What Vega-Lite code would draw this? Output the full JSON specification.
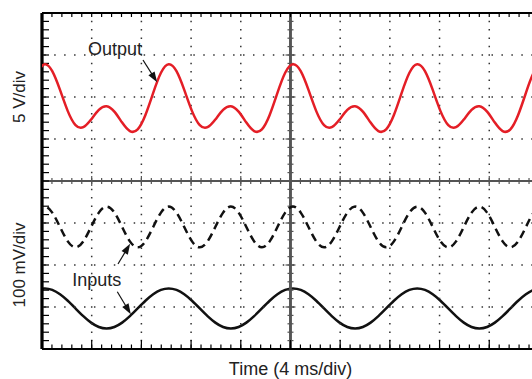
{
  "$schema": "https://vega.github.io/schema/vega-lite/v6.json",
  "width": 490,
  "height": 336,
  "autosize": {"type": "none"},
  "padding": {"left": 42, "top": 13, "right": 0, "bottom": 30},
  "background": "white",
  "config": {"view": {"stroke": null}, "font": "Liberation Sans"},
  "datasets": {
    "wave": [
      {"t": -0.425, "out": 6.577, "dash": 3.248, "sol": 1.406},
      {"t": 0.2, "out": 6.78, "dash": 3.39, "sol": 1.442},
      {"t": 0.825, "out": 6.615, "dash": 3.248, "sol": 1.406},
      {"t": 1.45, "out": 6.169, "dash": 2.905, "sol": 1.302},
      {"t": 2.075, "out": 5.664, "dash": 2.562, "sol": 1.148},
      {"t": 2.7, "out": 5.33, "dash": 2.42, "sol": 0.965},
      {"t": 3.325, "out": 5.281, "dash": 2.562, "sol": 0.782},
      {"t": 3.95, "out": 5.462, "dash": 2.905, "sol": 0.628},
      {"t": 4.575, "out": 5.691, "dash": 3.248, "sol": 0.524},
      {"t": 5.2, "out": 5.78, "dash": 3.39, "sol": 0.488},
      {"t": 5.825, "out": 5.652, "dash": 3.248, "sol": 0.524},
      {"t": 6.45, "out": 5.391, "dash": 2.905, "sol": 0.628},
      {"t": 7.075, "out": 5.189, "dash": 2.562, "sol": 0.782},
      {"t": 7.7, "out": 5.23, "dash": 2.42, "sol": 0.965},
      {"t": 8.325, "out": 5.572, "dash": 2.562, "sol": 1.148},
      {"t": 8.95, "out": 6.098, "dash": 2.905, "sol": 1.302},
      {"t": 9.575, "out": 6.577, "dash": 3.248, "sol": 1.406},
      {"t": 10.2, "out": 6.78, "dash": 3.39, "sol": 1.442},
      {"t": 10.825, "out": 6.615, "dash": 3.248, "sol": 1.406},
      {"t": 11.45, "out": 6.169, "dash": 2.905, "sol": 1.302},
      {"t": 12.075, "out": 5.664, "dash": 2.562, "sol": 1.148},
      {"t": 12.7, "out": 5.33, "dash": 2.42, "sol": 0.965},
      {"t": 13.325, "out": 5.281, "dash": 2.562, "sol": 0.782},
      {"t": 13.95, "out": 5.462, "dash": 2.905, "sol": 0.628},
      {"t": 14.575, "out": 5.691, "dash": 3.248, "sol": 0.524},
      {"t": 15.2, "out": 5.78, "dash": 3.39, "sol": 0.488},
      {"t": 15.825, "out": 5.652, "dash": 3.248, "sol": 0.524},
      {"t": 16.45, "out": 5.391, "dash": 2.905, "sol": 0.628},
      {"t": 17.075, "out": 5.189, "dash": 2.562, "sol": 0.782},
      {"t": 17.7, "out": 5.23, "dash": 2.42, "sol": 0.965},
      {"t": 18.325, "out": 5.572, "dash": 2.562, "sol": 1.148},
      {"t": 18.95, "out": 6.098, "dash": 2.905, "sol": 1.302},
      {"t": 19.575, "out": 6.577, "dash": 3.248, "sol": 1.406},
      {"t": 20.2, "out": 6.78, "dash": 3.39, "sol": 1.442},
      {"t": 20.825, "out": 6.615, "dash": 3.248, "sol": 1.406},
      {"t": 21.45, "out": 6.169, "dash": 2.905, "sol": 1.302},
      {"t": 22.075, "out": 5.664, "dash": 2.562, "sol": 1.148},
      {"t": 22.7, "out": 5.33, "dash": 2.42, "sol": 0.965},
      {"t": 23.325, "out": 5.281, "dash": 2.562, "sol": 0.782},
      {"t": 23.95, "out": 5.462, "dash": 2.905, "sol": 0.628},
      {"t": 24.575, "out": 5.691, "dash": 3.248, "sol": 0.524},
      {"t": 25.2, "out": 5.78, "dash": 3.39, "sol": 0.488},
      {"t": 25.825, "out": 5.652, "dash": 3.248, "sol": 0.524},
      {"t": 26.45, "out": 5.391, "dash": 2.905, "sol": 0.628},
      {"t": 27.075, "out": 5.189, "dash": 2.562, "sol": 0.782},
      {"t": 27.7, "out": 5.23, "dash": 2.42, "sol": 0.965},
      {"t": 28.325, "out": 5.572, "dash": 2.562, "sol": 1.148},
      {"t": 28.95, "out": 6.098, "dash": 2.905, "sol": 1.302},
      {"t": 29.575, "out": 6.577, "dash": 3.248, "sol": 1.406},
      {"t": 30.2, "out": 6.78, "dash": 3.39, "sol": 1.442},
      {"t": 30.825, "out": 6.615, "dash": 3.248, "sol": 1.406},
      {"t": 31.45, "out": 6.169, "dash": 2.905, "sol": 1.302},
      {"t": 32.075, "out": 5.664, "dash": 2.562, "sol": 1.148},
      {"t": 32.7, "out": 5.33, "dash": 2.42, "sol": 0.965},
      {"t": 33.325, "out": 5.281, "dash": 2.562, "sol": 0.782},
      {"t": 33.95, "out": 5.462, "dash": 2.905, "sol": 0.628},
      {"t": 34.575, "out": 5.691, "dash": 3.248, "sol": 0.524},
      {"t": 35.2, "out": 5.78, "dash": 3.39, "sol": 0.488},
      {"t": 35.825, "out": 5.652, "dash": 3.248, "sol": 0.524},
      {"t": 36.45, "out": 5.391, "dash": 2.905, "sol": 0.628},
      {"t": 37.075, "out": 5.189, "dash": 2.562, "sol": 0.782},
      {"t": 37.7, "out": 5.23, "dash": 2.42, "sol": 0.965},
      {"t": 38.325, "out": 5.572, "dash": 2.562, "sol": 1.148},
      {"t": 38.95, "out": 6.098, "dash": 2.905, "sol": 1.302},
      {"t": 39.575, "out": 6.577, "dash": 3.248, "sol": 1.406},
      {"t": 40.2, "out": 6.78, "dash": 3.39, "sol": 1.442}
    ],
    "xminor": [
      {"t": 0}, {"t": 0.8}, {"t": 1.6}, {"t": 2.4}, {"t": 3.2}, {"t": 4}, {"t": 4.8}, {"t": 5.6}, {"t": 6.4}, {"t": 7.2},
      {"t": 8}, {"t": 8.8}, {"t": 9.6}, {"t": 10.4}, {"t": 11.2}, {"t": 12}, {"t": 12.8}, {"t": 13.6}, {"t": 14.4}, {"t": 15.2},
      {"t": 16}, {"t": 16.8}, {"t": 17.6}, {"t": 18.4}, {"t": 19.2}, {"t": 20}, {"t": 20.8}, {"t": 21.6}, {"t": 22.4}, {"t": 23.2},
      {"t": 24}, {"t": 24.8}, {"t": 25.6}, {"t": 26.4}, {"t": 27.2}, {"t": 28}, {"t": 28.8}, {"t": 29.6}, {"t": 30.4}, {"t": 31.2},
      {"t": 32}, {"t": 32.8}, {"t": 33.6}, {"t": 34.4}, {"t": 35.2}, {"t": 36}, {"t": 36.8}, {"t": 37.6}, {"t": 38.4}, {"t": 39.2}
    ],
    "xmajor": [
      {"t": 0}, {"t": 4}, {"t": 8}, {"t": 12}, {"t": 16}, {"t": 20}, {"t": 24}, {"t": 28}, {"t": 32}, {"t": 36}
    ],
    "yminor": [
      {"v": 0}, {"v": 0.2}, {"v": 0.4}, {"v": 0.6}, {"v": 0.8}, {"v": 1}, {"v": 1.2}, {"v": 1.4}, {"v": 1.6}, {"v": 1.8},
      {"v": 2}, {"v": 2.2}, {"v": 2.4}, {"v": 2.6}, {"v": 2.8}, {"v": 3}, {"v": 3.2}, {"v": 3.4}, {"v": 3.6}, {"v": 3.8},
      {"v": 4}, {"v": 4.2}, {"v": 4.4}, {"v": 4.6}, {"v": 4.8}, {"v": 5}, {"v": 5.2}, {"v": 5.4}, {"v": 5.6}, {"v": 5.8},
      {"v": 6}, {"v": 6.2}, {"v": 6.4}, {"v": 6.6}, {"v": 6.8}, {"v": 7}, {"v": 7.2}, {"v": 7.4}, {"v": 7.6}, {"v": 7.8}, {"v": 8}
    ],
    "ymajor": [
      {"v": 0}, {"v": 1}, {"v": 2}, {"v": 3}, {"v": 4}, {"v": 5}, {"v": 6}, {"v": 7}, {"v": 8}
    ],
    "vgrid": [
      {"t": 4}, {"t": 8}, {"t": 12}, {"t": 16}, {"t": 24}, {"t": 28}, {"t": 32}, {"t": 36}
    ],
    "hgrid": [
      {"v": 1}, {"v": 2}, {"v": 3}, {"v": 5}, {"v": 6}, {"v": 7}
    ],
    "notes": [
      {"label": "Output", "t": 5.876, "v": 7.0},
      {"label": "Inputs", "t": 4.403, "v": 1.49}
    ],
    "xtitle": [
      {"label": "Time (4 ms/div)", "t": 20, "v": -0.619}
    ],
    "ytitles": [
      {"label": "5 V/div", "t": -1.368, "v": 6},
      {"label": "100 mV/div", "t": -1.368, "v": 2}
    ],
    "arrows": [
      {"name": "output", "t": 8.129, "v": 6.881, "t2": 9.039, "v2": 6.457, "angle": 147.5},
      {"name": "input dashed", "t": 6.117, "v": 2.024, "t2": 6.874, "v2": 2.398, "angle": 31},
      {"name": "input solid", "t": 6.061, "v": 1.364, "t2": 6.93, "v2": 0.936, "angle": 149}
    ]
  },
  "layer": [
    {
      "data": {"name": "wave"},
      "mark": {"type": "line", "interpolate": "natural", "color": "#111111", "strokeWidth": 2.5, "clip": true},
      "encoding": {
        "x": {"field": "t", "type": "quantitative", "scale": {"domain": [0, 39.44], "nice": false, "zero": false}, "axis": null},
        "y": {"field": "sol", "type": "quantitative", "scale": {"domain": [0, 8], "nice": false, "zero": false}, "axis": null}
      }
    },
    {
      "data": {"name": "vgrid"},
      "mark": {"type": "rule", "strokeDash": [1.5, 6.9], "strokeDashOffset": 0.75, "strokeWidth": 1.5, "color": "#333333"},
      "encoding": {"x": {"field": "t", "type": "quantitative", "axis": null}}
    },
    {
      "data": {"name": "hgrid"},
      "mark": {"type": "rule", "strokeDash": [1.5, 8.439], "strokeDashOffset": 0.75, "strokeWidth": 1.5, "color": "#333333"},
      "encoding": {"y": {"field": "v", "type": "quantitative", "axis": null}}
    },
    {
      "data": {"name": "xmajor"},
      "mark": {"type": "rule", "color": "#555555", "strokeWidth": 1.5},
      "encoding": {"x": {"datum": 20, "type": "quantitative", "axis": null}}
    },
    {
      "data": {"name": "ymajor"},
      "mark": {"type": "rule", "color": "#555555", "strokeWidth": 1.5},
      "encoding": {"y": {"datum": 4, "type": "quantitative", "axis": null}}
    },
    {
      "data": {"name": "xminor"},
      "mark": {"type": "tick", "orient": "vertical", "size": 6, "thickness": 1.2, "color": "#555555", "opacity": 1},
      "encoding": {"x": {"field": "t", "type": "quantitative", "axis": null}, "y": {"datum": 4, "type": "quantitative", "axis": null}}
    },
    {
      "data": {"name": "xmajor"},
      "mark": {"type": "tick", "orient": "vertical", "size": 10, "thickness": 1.2, "color": "#555555", "opacity": 1},
      "encoding": {"x": {"field": "t", "type": "quantitative", "axis": null}, "y": {"datum": 4, "type": "quantitative", "axis": null}}
    },
    {
      "data": {"name": "yminor"},
      "mark": {"type": "tick", "orient": "horizontal", "size": 6, "thickness": 1.2, "color": "#555555", "opacity": 1},
      "encoding": {"y": {"field": "v", "type": "quantitative", "axis": null}, "x": {"datum": 20, "type": "quantitative", "axis": null}}
    },
    {
      "data": {"name": "ymajor"},
      "mark": {"type": "tick", "orient": "horizontal", "size": 10, "thickness": 1.2, "color": "#555555", "opacity": 1},
      "encoding": {"y": {"field": "v", "type": "quantitative", "axis": null}, "x": {"datum": 20, "type": "quantitative", "axis": null}}
    },
    {
      "data": {"name": "xminor"},
      "mark": {"type": "tick", "orient": "vertical", "size": 8, "thickness": 1.2, "color": "black", "opacity": 1, "clip": true},
      "encoding": {"x": {"field": "t", "type": "quantitative", "axis": null}, "y": {"datum": 8, "type": "quantitative", "axis": null}}
    },
    {
      "data": {"name": "xminor"},
      "mark": {"type": "tick", "orient": "vertical", "size": 9, "thickness": 1.2, "color": "black", "opacity": 1, "clip": true},
      "encoding": {"x": {"field": "t", "type": "quantitative", "axis": null}, "y": {"datum": 0, "type": "quantitative", "axis": null}}
    },
    {
      "data": {"name": "xmajor"},
      "mark": {"type": "tick", "orient": "vertical", "size": 18, "thickness": 1.2, "color": "black", "opacity": 1, "clip": true},
      "encoding": {"x": {"field": "t", "type": "quantitative", "axis": null}, "y": {"datum": 0, "type": "quantitative", "axis": null}}
    },
    {
      "data": {"name": "yminor"},
      "mark": {"type": "tick", "orient": "horizontal", "size": 14, "thickness": 1.2, "color": "black", "opacity": 1, "clip": true},
      "encoding": {"y": {"field": "v", "type": "quantitative", "axis": null}, "x": {"datum": 0, "type": "quantitative", "axis": null}}
    },
    {
      "data": {"name": "ymajor"},
      "mark": {"type": "rule", "color": "black", "strokeWidth": 2.2},
      "encoding": {"x": {"datum": 0, "type": "quantitative", "axis": null}}
    },
    {
      "data": {"name": "ymajor"},
      "mark": {"type": "rule", "color": "black", "strokeWidth": 2.2},
      "encoding": {"y": {"datum": 8, "type": "quantitative", "axis": null}}
    },
    {
      "data": {"name": "ymajor"},
      "mark": {"type": "rule", "color": "black", "strokeWidth": 2.2},
      "encoding": {"y": {"datum": 0, "type": "quantitative", "axis": null}}
    },
    {
      "data": {"name": "wave"},
      "mark": {"type": "line", "interpolate": "natural", "color": "#111111", "strokeWidth": 2.5, "strokeDash": [8, 5], "clip": true},
      "encoding": {"x": {"field": "t", "type": "quantitative", "axis": null}, "y": {"field": "dash", "type": "quantitative", "axis": null}}
    },
    {
      "data": {"name": "wave"},
      "mark": {"type": "line", "interpolate": "natural", "color": "#e41e26", "strokeWidth": 2.5, "clip": true},
      "encoding": {"x": {"field": "t", "type": "quantitative", "axis": null}, "y": {"field": "out", "type": "quantitative", "axis": null}}
    },
    {
      "data": {"name": "arrows"},
      "mark": {"type": "rule", "color": "#111111", "strokeWidth": 1.2},
      "encoding": {
        "x": {"field": "t", "type": "quantitative", "axis": null}, "y": {"field": "v", "type": "quantitative", "axis": null},
        "x2": {"field": "t2"}, "y2": {"field": "v2"}
      }
    },
    {
      "data": {"name": "arrows"},
      "mark": {"type": "point", "shape": "M0,-1L0.7,1L-0.7,1Z", "filled": true, "size": 110, "color": "#111111", "opacity": 1, "strokeWidth": 0},
      "encoding": {
        "x": {"field": "t2", "type": "quantitative", "axis": null}, "y": {"field": "v2", "type": "quantitative", "axis": null},
        "angle": {"field": "angle", "type": "quantitative", "scale": null}
      }
    },
    {
      "data": {"name": "notes"},
      "mark": {"type": "text", "fontSize": 18, "align": "center", "baseline": "alphabetic", "color": "#222222", "font": "Liberation Sans"},
      "encoding": {
        "x": {"field": "t", "type": "quantitative", "axis": null}, "y": {"field": "v", "type": "quantitative", "axis": null},
        "text": {"field": "label"}
      }
    },
    {
      "data": {"name": "xtitle"},
      "mark": {"type": "text", "fontSize": 18, "align": "center", "baseline": "alphabetic", "color": "#222222", "font": "Liberation Sans"},
      "encoding": {
        "x": {"field": "t", "type": "quantitative", "axis": null}, "y": {"field": "v", "type": "quantitative", "axis": null},
        "text": {"field": "label"}
      }
    },
    {
      "data": {"name": "ytitles"},
      "mark": {"type": "text", "fontSize": 17, "angle": 270, "align": "center", "baseline": "alphabetic", "color": "#222222", "font": "Liberation Sans"},
      "encoding": {
        "x": {"field": "t", "type": "quantitative", "axis": null}, "y": {"field": "v", "type": "quantitative", "axis": null},
        "text": {"field": "label"}
      }
    }
  ]
}
